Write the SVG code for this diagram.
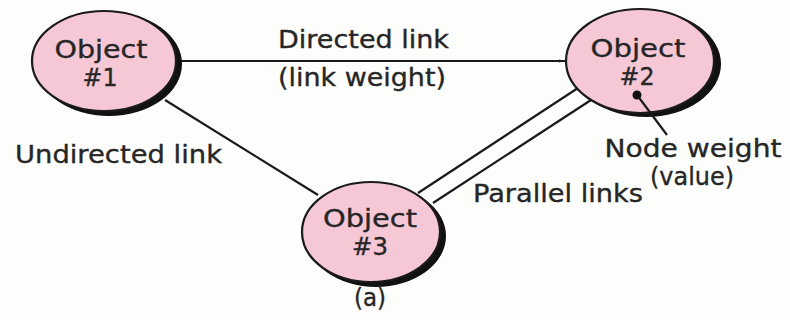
<svg xmlns="http://www.w3.org/2000/svg" width="790" height="320" viewBox="0 0 790 320">
<defs>
<style>
.shadow{fill:#111;}
.node{fill:#f6c8d6;stroke:#1a1a1a;stroke-width:2.2;}
.t{font-family:"DejaVu Sans","Liberation Sans",sans-serif;font-size:25px;fill:#262626;stroke:#262626;stroke-width:0.35;text-anchor:middle;}
.lbl{font-family:"DejaVu Sans","Liberation Sans",sans-serif;font-size:25px;fill:#262626;stroke:#262626;stroke-width:0.35;}
.ln{stroke:#1a1a1a;stroke-width:2.2;fill:none;}
</style>
<marker id="arr" viewBox="0 0 10 10" refX="10" refY="5" markerWidth="6" markerHeight="6" orient="auto" markerUnits="userSpaceOnUse">
<path d="M0,2.5 L10,5 L0,7.5 z" fill="#1a1a1a"/>
</marker>
</defs>
<rect width="790" height="320" fill="#fdfdfb"/>
<g id="connectors">
<line class="ln" x1="178" y1="61" x2="565" y2="61" marker-end="url(#arr)"/>
<line class="ln" x1="165" y1="100" x2="318" y2="195"/>
<line class="ln" x1="578" y1="88" x2="418" y2="193"/>
<line class="ln" x1="591" y1="100" x2="433" y2="203"/>
</g>
<g id="node1">
<ellipse class="shadow" cx="109" cy="64" rx="73" ry="52"/>
<ellipse class="node" cx="104" cy="61" rx="72" ry="50"/>
<text class="t" x="101" y="58" textLength="93" lengthAdjust="spacingAndGlyphs">Object</text>
<text class="t" x="100" y="86" textLength="35" lengthAdjust="spacingAndGlyphs">#1</text>
</g>
<g id="node2">
<ellipse class="shadow" cx="646" cy="64" rx="75" ry="53"/>
<ellipse class="node" cx="640" cy="61" rx="74" ry="52"/>
<text class="t" x="638" y="57" textLength="95" lengthAdjust="spacingAndGlyphs">Object</text>
<text class="t" x="637" y="85" textLength="35" lengthAdjust="spacingAndGlyphs">#2</text>
</g>
<g id="node3">
<ellipse class="shadow" cx="376" cy="236" rx="70" ry="51"/>
<ellipse class="node" cx="371" cy="232" rx="69" ry="50"/>
<text class="t" x="370" y="227" textLength="94" lengthAdjust="spacingAndGlyphs">Object</text>
<text class="t" x="370" y="255" textLength="36" lengthAdjust="spacingAndGlyphs">#3</text>
</g>
<g id="nodeweight">
<line class="ln" x1="637" y1="95" x2="667" y2="135"/>
<circle cx="637" cy="95" r="4.5" fill="#111"/>
</g>
<g id="labels">
<text class="lbl" x="278" y="48" textLength="171" lengthAdjust="spacingAndGlyphs">Directed link</text>
<text class="lbl" x="278" y="86" textLength="168" lengthAdjust="spacingAndGlyphs">(link weight)</text>
<text class="lbl" x="15" y="163" textLength="207" lengthAdjust="spacingAndGlyphs">Undirected link</text>
<text class="lbl" x="473" y="202" textLength="170" lengthAdjust="spacingAndGlyphs">Parallel links</text>
<text class="t" x="693" y="157" textLength="177" lengthAdjust="spacingAndGlyphs">Node weight</text>
<text class="t" x="692" y="185" textLength="84" lengthAdjust="spacingAndGlyphs">(value)</text>
<text class="t" x="370" y="306" textLength="32" lengthAdjust="spacingAndGlyphs">(a)</text>
</g>
</svg>
